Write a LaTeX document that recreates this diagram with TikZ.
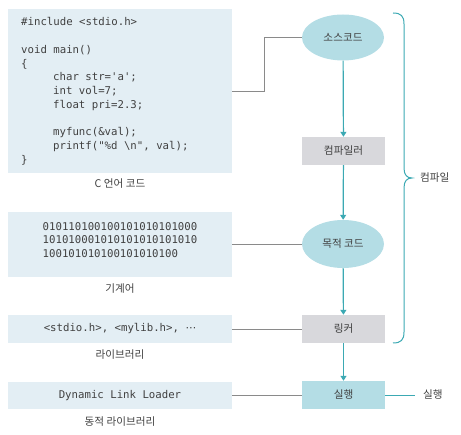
\documentclass[tikz,border=0pt]{standalone}
\usepackage{fontspec}
\setmainfont{Noto Sans CJK KR}
\newfontfamily\krfont{Noto Sans CJK KR}
\newfontfamily\codefont{DejaVu Sans Mono}
\newfontfamily\symfont{DejaVu Sans}
\usetikzlibrary{shapes.geometric,arrows.meta}
\definecolor{boxblue}{HTML}{E3EEF4}
\definecolor{tealfill}{HTML}{B4DDE5}
\definecolor{graybox}{HTML}{D8D8DC}
\definecolor{tealline}{HTML}{3BA9B3}
\definecolor{grayline}{HTML}{8A8A8A}
\definecolor{txt}{HTML}{404040}
\begin{document}
\begin{tikzpicture}[x=1pt,y=-1pt,
  panel/.style={rectangle,fill=boxblue,draw=none,inner sep=0pt,minimum width=224pt},
  codetext/.style={font={\codefont\fontsize{10.7}{13.76}\selectfont},text=txt,inner sep=0pt},
  lbl/.style={font={\krfont\fontsize{10.6}{12}\selectfont},text=txt,inner sep=0pt},
  oval/.style={ellipse,fill=tealfill,draw=none,inner sep=0pt,minimum width=82pt,minimum height=46pt,font={\krfont\fontsize{10.6}{12}\selectfont},text=txt},
  procbox/.style={rectangle,fill=graybox,draw=none,inner sep=0pt,minimum width=83pt,minimum height=28pt,font={\krfont\fontsize{10.6}{12}\selectfont},text=txt},
  execbox/.style={procbox,fill=tealfill},
  flow/.style={draw=tealline,line width=1.2pt,-{Triangle[width=6pt,length=5pt]}},
  feed/.style={draw=grayline,line width=0.9pt},
]
\useasboundingbox (0,0) rectangle (461,435);

% left panels
\node[panel,minimum height=164pt] (code) at (120,91) {};
\node[codetext,anchor=north west,align=left] (codetxt) at (21,17.5)
 {\#include <stdio.h>\\
  \mbox{}\\
  void main()\\
  \{\\
  \hspace*{32pt}char str=\textquotesingle a\textquotesingle;\\
  \hspace*{32pt}int vol=7;\\
  \hspace*{32pt}float pri=2.3;\\
  \mbox{}\\
  \hspace*{32pt}myfunc(\&val);\\
  \hspace*{32pt}printf("\%d \textbackslash n", val);\\
  \}};
\node[lbl] (codelbl) at (120,184) {C 언어 코드};

\node[panel,minimum height=65pt] (mach) at (120,244.5) {};
\node[codetext,align=left] (machtxt) at (120,240)
 {010110100100101010101000\\
  101010001010101010101010\\
  100101010100101010100\phantom{000}};
\node[lbl] (machlbl) at (120,289) {기계어};

\node[panel,minimum height=28pt] (lib) at (120,329) {};
\node[codetext] (libtxt) at (120,329) {<stdio.h>, <mylib.h>, {\symfont ⋯}};
\node[lbl] (liblbl) at (120,355) {라이브러리};

\node[panel,minimum height=27pt] (dll) at (120,395.5) {};
\node[codetext] (dlltxt) at (120,395.5) {Dynamic Link Loader};
\node[lbl] (dlllbl) at (120,422) {동적 라이브러리};

% flow column
\node[oval] (src) at (343,37.5) {소스코드};
\node[procbox] (comp) at (343.5,151) {컴파일러};
\node[oval,minimum height=48pt] (obj) at (343,244) {목적 코드};
\node[procbox] (link) at (343.5,329) {링커};
\node[execbox] (exec) at (343.5,395) {실행};

\draw[flow] (src) -- (comp);
\draw[flow] (comp) -- (obj);
\draw[flow] (obj) -- (link);
\draw[flow] (link) -- (exec);

% gray feeders
\draw[feed] (code.east) -- ++(32,0) |- (src.west);
\draw[feed] (mach.east) -- (mach.east -| obj.west);
\draw[feed] (lib.east) -- (lib.east -| link.west);
\draw[feed] (dll.east) -- (dll.east -| exec.west);

% execution label
\coordinate (runend) at (415,395);
\draw[draw=tealline,line width=0.9pt] (exec.east) -- (runend);
\node[lbl,anchor=west] (runlbl) at (423,395) {실행};

% compile brace
\coordinate (btop) at (393,13);
\coordinate (btip) at (412,178);
\coordinate (bbot) at (393,343);
\draw[draw=tealline,line width=1pt]
  (btop) .. controls (401,13) and (404,16) .. (404,24)
  -- (404,168) .. controls (404,175) and (407,178) .. (btip)
  .. controls (407,178) and (404,181) .. (404,188)
  -- (404,332) .. controls (404,340) and (401,343) .. (bbot);
\node[lbl,anchor=west] (complbl) at (420,178) {컴파일};
\end{tikzpicture}
\end{document}
